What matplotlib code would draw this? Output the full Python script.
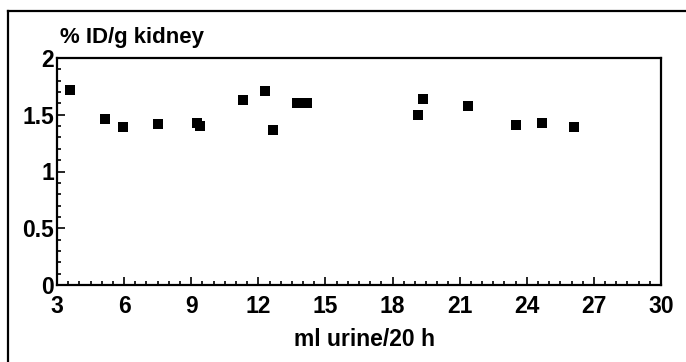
import matplotlib
matplotlib.use("Agg")
import matplotlib.pyplot as plt
from matplotlib.lines import Line2D
from matplotlib.ticker import MultipleLocator

urine_ml = [3.58, 5.14, 5.95, 7.51, 9.25, 9.38, 11.30, 12.29, 12.64, 13.71,
            14.16, 19.12, 19.34, 21.39, 23.54, 24.70, 26.13]
id_per_g = [1.72, 1.46, 1.39, 1.42, 1.43, 1.40, 1.63, 1.71, 1.37, 1.60,
            1.60, 1.50, 1.64, 1.58, 1.41, 1.43, 1.39]
x_ticks = [3, 6, 9, 12, 15, 18, 21, 24, 27, 30]
y_ticks = [0, 0.5, 1, 1.5, 2]
y_tick_labels = ["0", "0.5", "1", "1.5", "2"]
x_label = "ml urine/20 h"
y_label = "% ID/g kidney"

plt.rcParams['font.family'] = ['Liberation Sans', 'DejaVu Sans']

W, H = 686, 362
fig = plt.figure(figsize=(W / 100, H / 100), dpi=100)
ax = fig.add_axes([57 / W, 1 - 285 / H, (661 - 57) / W, (285 - 58) / H])

ax.scatter(urine_ml, id_per_g, marker='s', s=56, color='black', zorder=3,
           linewidths=0)

ax.set_xlim(3, 30)
ax.set_ylim(0, 2)
ax.set_xticks(x_ticks)
ax.set_yticks(y_ticks)
ax.set_yticklabels(y_tick_labels)
ax.xaxis.set_minor_locator(MultipleLocator(0.5))
ax.yaxis.set_minor_locator(MultipleLocator(0.1))
ax.tick_params(which='both', direction='in', top=False, right=False,
               width=1.2, color='black')
ax.tick_params(which='major', length=6)
ax.tick_params(which='minor', length=3)
ax.tick_params(axis='x', which='major', pad=7)
ax.tick_params(axis='y', which='major', pad=2)
for lab in ax.get_xticklabels() + ax.get_yticklabels():
    lab.set_fontsize(16.5)
    lab.set_fontweight('bold')
for sp in ax.spines.values():
    sp.set_linewidth(1.6)

fig.text(60 / W, 1 - 43 / H, y_label, fontsize=16, fontweight='bold',
         ha='left', va='baseline')
fig.text(365 / W, 1 - 346 / H, x_label, fontsize=16.5, fontweight='bold',
         ha='center', va='baseline')

# outer frame (top and left edges)
fig.add_artist(Line2D([8 / W, 1.0], [1 - 11 / H, 1 - 11 / H], color='black',
                      lw=1.6, transform=fig.transFigure))
fig.add_artist(Line2D([8 / W, 8 / W], [0.0, 1 - 11 / H], color='black',
                      lw=1.6, transform=fig.transFigure))

fig.savefig("out.png", dpi=100, facecolor='white')
